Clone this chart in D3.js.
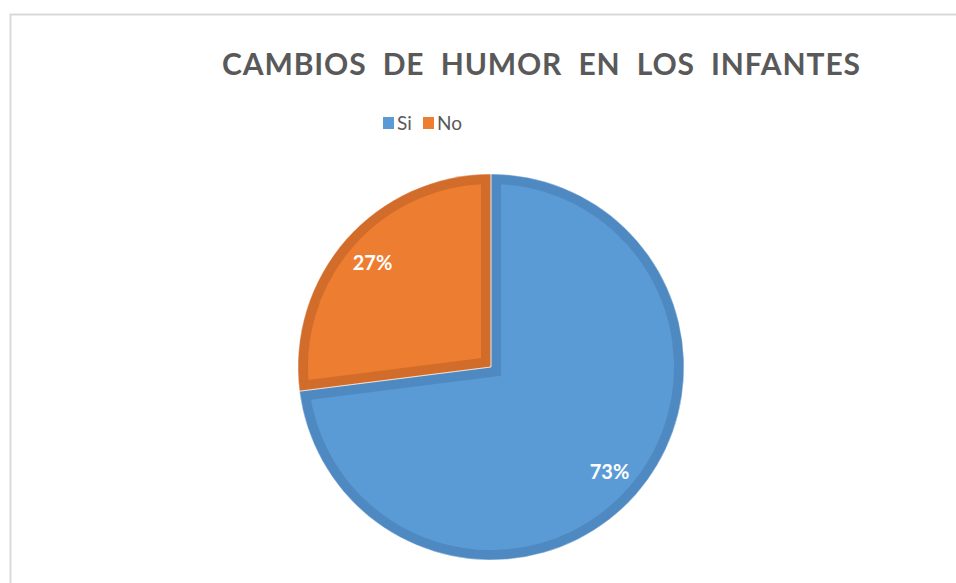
<!DOCTYPE html>
<html>
<head>
<meta charset="utf-8">
<script src="https://cdn.jsdelivr.net/npm/d3@7"></script>
<style>
  body { margin: 0; background: #fff; }
  svg { display: block; }
</style>
</head>
<body>
<div class="pieplot"></div>
<script>
// data
var categories = ["Si", "No"];
var values = [73, 27];
var fills = ["#5B9BD5", "#ED7D31"];
var borders = ["#4F89C1", "#D26C2A"];

var width = 956, height = 583;
var cx = 491, cy = 367, radius = 193;

var svg = d3.select(".pieplot").append("svg")
    .attr("width", width)
    .attr("height", height);

// chart frame
svg.append("rect")
    .attr("x", 10.5)
    .attr("y", 14.5)
    .attr("width", 980)
    .attr("height", 620)
    .style("fill", "none")
    .style("stroke", "#d9d9d9")
    .style("stroke-width", 2);

// title
svg.append("text")
    .attr("x", 541)
    .attr("y", 75)
    .attr("text-anchor", "middle")
    .attr("textLength", 638)
    .attr("lengthAdjust", "spacing")
    .style("font-family", "Lato, 'Open Sans', sans-serif")
    .style("font-weight", "bold")
    .style("font-size", "30px")
    .style("fill", "#595959")
    .style("word-spacing", "8px")
    .text("CAMBIOS DE HUMOR EN LOS INFANTES");

// legend
var legendX = [383, 423];
var legend = svg.append("g").attr("class", "legend");
categories.forEach(function(c, i) {
  legend.append("rect")
    .attr("x", legendX[i])
    .attr("y", 117)
    .attr("width", 11)
    .attr("height", 12)
    .style("fill", fills[i]);
  legend.append("text")
    .attr("x", legendX[i] + 14)
    .attr("y", 130)
    .style("font-family", "Lato, 'Open Sans', sans-serif")
    .style("font-size", "19px")
    .style("fill", "#595959")
    .text(c);
});

// pie
var pie = d3.pie().sort(null).value(d => d.value);
var arcs = pie(categories.map((c, i) => ({name: c, value: values[i], idx: i})));

var arc = d3.arc().innerRadius(0).outerRadius(radius);
var labelArc = d3.arc().innerRadius(158).outerRadius(158);

var g = svg.append("g")
    .attr("transform", "translate(" + cx + "," + cy + ")");

var defs = svg.append("defs");
arcs.forEach(function(d, i) {
  defs.append("clipPath")
      .attr("id", "clip-" + i)
    .append("path")
      .attr("d", arc(d));
});

g.selectAll(".slice")
  .data(arcs)
  .enter().append("path")
    .attr("class", "slice")
    .attr("d", arc)
    .attr("clip-path", (d, i) => "url(#clip-" + i + ")")
    .style("fill", d => fills[d.data.idx])
    .style("stroke", d => borders[d.data.idx])
    .style("stroke-width", 20);

// thin separation between slices
g.selectAll(".sep")
  .data(arcs)
  .enter().append("path")
    .attr("class", "sep")
    .attr("d", arc)
    .style("fill", "none")
    .style("stroke", "#ffffff")
    .style("stroke-opacity", 0.6)
    .style("stroke-width", 0.8);

g.selectAll(".lbl")
  .data(arcs)
  .enter().append("text")
    .attr("class", "lbl")
    .attr("transform", d => "translate(" + labelArc.centroid(d) + ")")
    .attr("text-anchor", "middle")
    .attr("dy", "0.36em")
    .style("font-family", "Lato, 'Open Sans', sans-serif")
    .style("font-weight", "bold")
    .style("font-size", "20px")
    .style("fill", "#ffffff")
    .text(d => d.data.value + "%");
</script>
</body>
</html>
